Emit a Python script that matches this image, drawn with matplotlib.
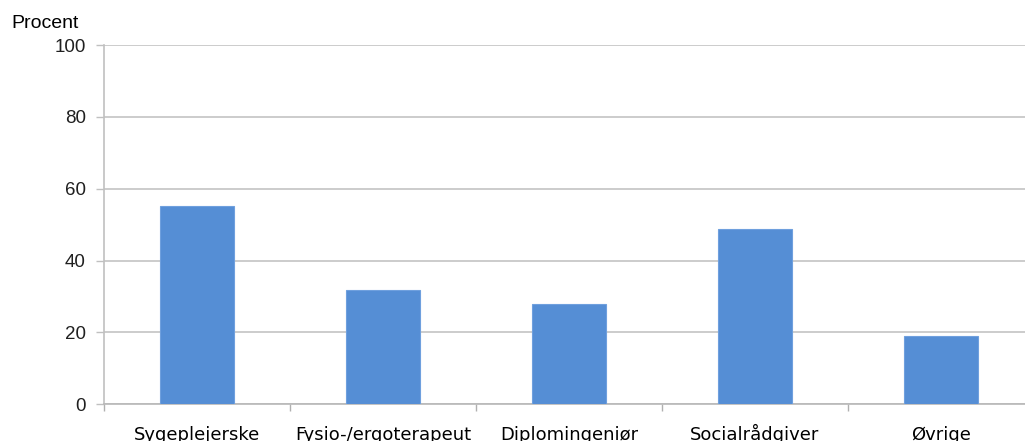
import matplotlib
matplotlib.use("Agg")
import matplotlib.pyplot as plt
import numpy as np

categories = ["Sygeplejerske", "Fysio-/ergoterapeut", "Diplomingeniør", "Socialrådgiver", "Øvrige"]
values = [55.2, 31.9, 27.8, 48.7, 19.0]
yticks = [0, 20, 40, 60, 80, 100]

W, H = 1025, 441
fig = plt.figure(figsize=(W / 100, H / 100), dpi=100)
left, right, top, bottom = 104, 1034, 45, 404.3
ax = fig.add_axes([left / W, (H - bottom) / H, (right - left) / W, (bottom - top) / H])

x = np.arange(len(categories))
ax.bar(x, values, width=0.40, color="#558ED5", edgecolor="#6FA0DE", linewidth=0.8, zorder=3)

ax.set_xlim(-0.5, len(categories) - 0.5)
ax.set_ylim(0, 100)
ax.set_yticks(yticks)
ax.set_yticklabels([str(t) for t in yticks], fontfamily="Liberation Sans", fontsize=13.5, color="#202020")

# category names centred under bars, tick marks on category boundaries
ax.set_xticks(x)
ax.set_xticklabels(categories, fontfamily="DejaVu Sans", fontsize=13, color="#000000")
ax.tick_params(axis="x", which="major", length=0, pad=26)
for lab in ax.get_xticklabels():
    lab.set_verticalalignment("baseline")
ax.set_xticks(np.arange(len(categories) + 1) - 0.5, minor=True)
ax.tick_params(axis="x", which="minor", length=5, width=1, color="#b0b0b0", direction="out")
ax.tick_params(axis="y", length=6, width=1, color="#c0c0c0", pad=7)

ax.grid(axis="y", color="#c4c4c4", linewidth=1.2, zorder=0)
for s in ["top", "right"]:
    ax.spines[s].set_visible(False)
ax.spines["left"].set_color("#c0c0c0")
ax.spines["bottom"].set_color("#b8b8b8")
ax.spines["left"].set_linewidth(1.2)
ax.spines["bottom"].set_linewidth(1.2)

fig.text(11 / W, 1 - 28.5 / H, "Procent", fontfamily="Liberation Sans", fontsize=14, color="#000000",
         ha="left", va="baseline")

fig.savefig("out.png", dpi=100)
